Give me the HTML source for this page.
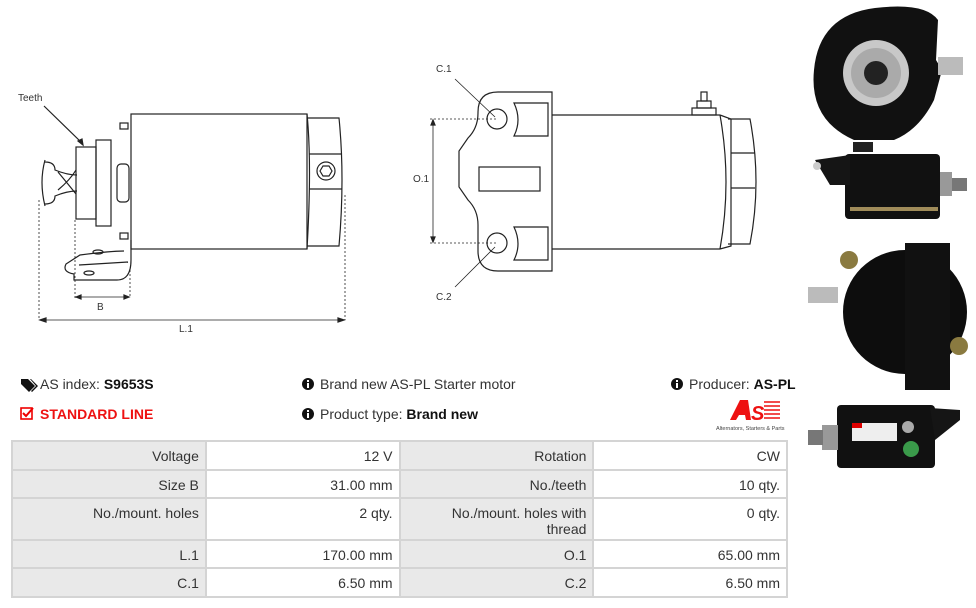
<!DOCTYPE html>
<html><head><meta charset="utf-8"><style>
body{margin:0;width:976px;height:608px;background:#fff;overflow:hidden;font-family:"Liberation Sans",sans-serif;position:relative}
.t{position:absolute;font-size:14px;color:#333;white-space:nowrap}
b{font-weight:bold;color:#111}
table{position:absolute;left:11px;top:440px;border-collapse:collapse;width:777px;font-size:14px;color:#333}
td{border:2px solid #d4d4d4;text-align:right;padding:0 6px;vertical-align:top;width:181px}
td.l{background:#e9e9e9}
</style></head><body>
<svg width="976" height="608" style="position:absolute;left:0;top:0" fill="none" stroke="#222" stroke-width="1.2">
<text x="18" y="101" font-size="10" fill="#333" stroke="none" font-family="Liberation Sans">Teeth</text>
<line x1="44" y1="106" x2="82" y2="143"/><path d="M78 141l5 4-1-6z" fill="#222"/>
<rect x="131" y="114" width="176" height="135"/>
<path d="M307 114q5 50 0 135"/>
<path d="M307 118h32q6 60 0 128h-32"/>
<line x1="309" y1="154" x2="342" y2="154"/><line x1="309" y1="189" x2="342" y2="189"/>
<circle cx="326" cy="171" r="9"/><path d="M320 171l3-5h6l3 5-3 5h-6z"/>
<rect x="120" y="123" width="8" height="6"/><rect x="120" y="233" width="8" height="6"/>
<rect x="96" y="140" width="15" height="86"/><rect x="76" y="147" width="20" height="72"/>
<rect x="117" y="164" width="12" height="38" rx="4"/>
<path d="M45 160q-6 22 0 46M45 162q10 0 10 8 12 5 22 5M45 204q10 0 10-8 12-5 22-5M58 172q10 12 18 22M58 190q12-10 18-20"/>
<path d="M131 240v20q0 20-14 20H74v-6q-12-2-8-10l14-9q30-4 44-4"/>
<ellipse cx="98" cy="252" rx="5" ry="2"/><ellipse cx="89" cy="273" rx="5" ry="2"/><line x1="79" y1="265" x2="128" y2="262"/>
<g stroke-dasharray="2 2" stroke-width="0.8"><line x1="39" y1="200" x2="39" y2="320"/><line x1="75" y1="220" x2="75" y2="298"/><line x1="130" y1="270" x2="130" y2="298"/><line x1="345" y1="195" x2="345" y2="320"/></g>
<line x1="76" y1="297" x2="129" y2="297" stroke-width="0.8"/><path d="M76 297l5-2v4zM129 297l-5-2v4z" fill="#222"/>
<line x1="40" y1="320" x2="344" y2="320" stroke-width="0.8"/><path d="M40 320l6-2v4zM344 320l-6-2v4z" fill="#222"/>
<text x="97" y="310" font-size="10" fill="#333" stroke="none">B</text>
<text x="179" y="332" font-size="10" fill="#333" stroke="none">L.1</text>
<text x="436" y="72" font-size="10" fill="#333" stroke="none">C.1</text>
<text x="436" y="300" font-size="10" fill="#333" stroke="none">C.2</text>
<text x="413" y="182" font-size="10" fill="#333" stroke="none">O.1</text>
<path d="M498 92h54v179h-54q-20 0-20-20v-26q0-15-10-25l-9-13v-36l9-13q10-10 10-25v-1q0-20 20-20z"/>
<circle cx="497" cy="119" r="10"/><circle cx="497" cy="243" r="10"/>
<path d="M514 103h34v33h-34q8-16 0-33zM514 227h34v33h-34q8-16 0-33z"/>
<rect x="479" y="167" width="61" height="24"/>
<line x1="552" y1="115" x2="720" y2="115"/><line x1="552" y1="249" x2="720" y2="249"/>
<path d="M720 115q12 67 0 134M720 115l11 4v127l-11 3"/>
<path d="M728 119h22q12 63 0 125h-22M731 153h24M731 188h24"/>
<rect x="692" y="108" width="24" height="7"/><rect x="697" y="101" width="14" height="7"/><rect x="701" y="92" width="6" height="9"/>
<g stroke-dasharray="2 2" stroke-width="0.8"><line x1="430" y1="119" x2="497" y2="119"/><line x1="430" y1="243" x2="497" y2="243"/></g>
<line x1="433" y1="121" x2="433" y2="241" stroke-width="0.8"/><path d="M433 120l-2 5h4zM433 242l-2-5h4z" fill="#222"/>
<line x1="455" y1="79" x2="495" y2="117" stroke-width="0.8"/><line x1="455" y1="287" x2="495" y2="247" stroke-width="0.8"/>
<g stroke="none">
<path d="M875 8q50-6 63 12l-2 40 6 10-8 30q-15 30-40 40h-40q-45-20-40-70 5-55 61-62z" fill="#111"/>
<rect x="938" y="57" width="25" height="18" fill="#bbb"/>
<circle cx="876" cy="73" r="33" fill="#c8c8c8"/><circle cx="876" cy="73" r="25" fill="#aaa"/><circle cx="876" cy="73" r="12" fill="#222"/>
<rect x="853" y="142" width="20" height="10" fill="#222"/>
<rect x="845" y="154" width="95" height="65" rx="4" fill="#111"/>
<path d="M815 160l35-5v30l-20 0z" fill="#151515"/><circle cx="817" cy="166" r="4" fill="#ccc"/>
<rect x="940" y="172" width="12" height="24" fill="#999"/><rect x="952" y="178" width="15" height="13" fill="#777"/>
<rect x="850" y="207" width="88" height="4" fill="#a08c5a"/>
<circle cx="905" cy="312" r="62" fill="#0d0d0d"/><rect x="905" y="243" width="45" height="147" fill="#111"/>
<circle cx="849" cy="260" r="9" fill="#8a7a40"/><circle cx="959" cy="346" r="9" fill="#8a7a40"/>
<rect x="808" y="287" width="30" height="16" fill="#bbb"/>
<rect x="837" y="405" width="98" height="63" rx="4" fill="#111"/>
<path d="M930 408l30 2v10l-25 20z" fill="#151515"/>
<rect x="822" y="425" width="16" height="25" fill="#999"/><rect x="808" y="430" width="15" height="15" fill="#777"/>
<rect x="852" y="423" width="45" height="18" fill="#eee"/><rect x="852" y="423" width="10" height="5" fill="#d00"/>
<circle cx="911" cy="449" r="8" fill="#3a9a4a"/><circle cx="908" cy="427" r="6" fill="#aaa"/>
</g>
<g stroke="none" fill="#111">
<path d="M21 379h7l7 7-6 6-8-8z"/><path d="M31 379l7 7-6 6-1-1 5-5-6-7z"/>
<circle cx="308" cy="384" r="6"/><circle cx="308" cy="414" r="6"/><circle cx="677" cy="384" r="6"/>
</g>
<g fill="#fff" stroke="none"><rect x="307" y="383" width="2" height="5"/><rect x="307" y="380" width="2" height="2"/><rect x="307" y="413" width="2" height="5"/><rect x="307" y="410" width="2" height="2"/><rect x="676" y="383" width="2" height="5"/><rect x="676" y="380" width="2" height="2"/></g>
<rect x="21" y="408" width="11" height="11" stroke="#e00" stroke-width="1.6"/><path d="M23 413l3 3 7-8" stroke="#e00" stroke-width="2"/>
<path d="M730 420l10-20h8l3 20h-5l-1-5h-6l-3 5z" fill="#e11" stroke="none"/>
<text x="751" y="420" font-size="20" font-weight="bold" font-style="italic" fill="#e11" stroke="none">S</text>
<g stroke="#e11" stroke-width="1.5"><line x1="764" y1="402" x2="780" y2="402"/><line x1="764" y1="406" x2="780" y2="406"/><line x1="764" y1="410" x2="780" y2="410"/><line x1="764" y1="414" x2="780" y2="414"/><line x1="764" y1="418" x2="780" y2="418"/></g>
<text x="716" y="430" font-size="5.5" fill="#444" stroke="none">Alternators, Starters &amp; Parts</text>
</svg>
<div class="t" style="left:40px;top:376px">AS index: <b>S9653S</b></div>
<div class="t" style="left:40px;top:406px;color:#e11;font-weight:bold">STANDARD LINE</div>
<div class="t" style="left:320px;top:376px">Brand new AS-PL Starter motor</div>
<div class="t" style="left:320px;top:406px">Product type: <b>Brand new</b></div>
<div class="t" style="left:689px;top:376px">Producer: <b>AS-PL</b></div>
<table>
<tr style="height:29px"><td class="l" style="padding-top:6px">Voltage</td><td style="padding-top:6px">12 V</td><td class="l" style="padding-top:6px">Rotation</td><td style="padding-top:6px">CW</td></tr>
<tr style="height:28px"><td class="l" style="padding-top:6px">Size B</td><td style="padding-top:6px">31.00 mm</td><td class="l" style="padding-top:6px">No./teeth</td><td style="padding-top:6px">10 qty.</td></tr>
<tr style="height:42px"><td class="l" style="padding-top:6px">No./mount. holes</td><td style="padding-top:6px">2 qty.</td><td class="l" style="padding-top:6px;line-height:16px">No./mount. holes with<br>thread</td><td style="padding-top:6px">0 qty.</td></tr>
<tr style="height:28px"><td class="l" style="padding-top:6px">L.1</td><td style="padding-top:6px">170.00 mm</td><td class="l" style="padding-top:6px">O.1</td><td style="padding-top:6px">65.00 mm</td></tr>
<tr style="height:29px"><td class="l" style="padding-top:6px">C.1</td><td style="padding-top:6px">6.50 mm</td><td class="l" style="padding-top:6px">C.2</td><td style="padding-top:6px">6.50 mm</td></tr>
</table>
</body></html>
